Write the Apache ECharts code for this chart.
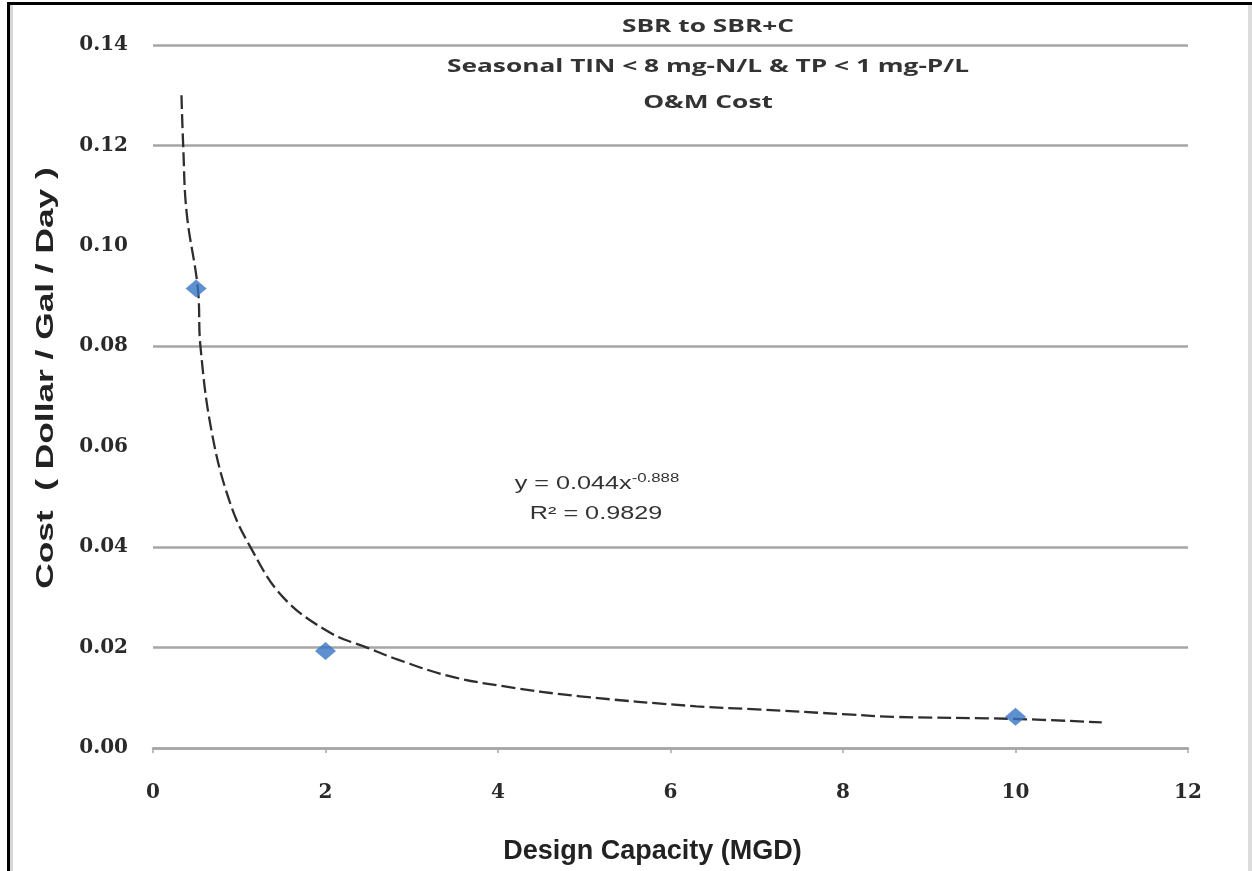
<!DOCTYPE html>
<html>
<head>
<meta charset="utf-8">
<script src="https://cdn.jsdelivr.net/npm/echarts@6/dist/echarts.min.js"></script>
<style>
html,body{margin:0;padding:0;background:#fff;}
#chart{width:1252px;height:871px;}
</style>
</head>
<body>
<div id="chart"></div>
<script>
// ---- data ----
const titleLines = ['SBR to SBR+C', 'Seasonal TIN < 8 mg-N/L & TP < 1 mg-P/L', 'O&M Cost'];
const xAxisName = 'Design Capacity (MGD)';
const yAxisName = 'Cost  ( Dollar / Gal / Day )';
const capacityMGD = [0.5, 2, 10];
const costValues = [0.0915, 0.0193, 0.0062];
// trend line
const trendX = [0.33, 0.35, 0.39, 0.52, 0.55, 0.68, 0.89, 1.13, 1.51, 2.05, 2.48, 2.84, 3.44, 4.06, 4.95, 6.3, 7.0, 8.05, 8.6, 9.97, 11.0];
const trendY = [0.130, 0.120, 0.1066, 0.0915, 0.080, 0.063, 0.049, 0.040, 0.030, 0.023, 0.020, 0.0176, 0.0143, 0.0123, 0.0103, 0.0083, 0.0077, 0.0067, 0.0062, 0.0058, 0.0051];
const equationText = ['y = 0.044x', '-0.888'];
const r2Text = 'R² = 0.9829';
const xTicks = { min: 0, max: 12, step: 2 };
const yTicks = { min: 0, max: 0.14, step: 0.02 };

const chart = echarts.init(document.getElementById('chart'), null, { renderer: 'canvas' });
const gridColor = '#A6A6A6';
const hid = 'rgba(0,0,0,0)';
const titleY = [27, 67, 103];
const tickFont = { fontFamily: 'DejaVu Serif', fontWeight: 'bold', fontSize: 20, color: '#2a2a2a' };

const option = {
  backgroundColor: '#ffffff',
  animation: false,
  grid: { left: 153, right: 64, top: 45, bottom: 123, containLabel: false, outerBoundsMode: 'none' },
  xAxis: {
    type: 'value',
    min: xTicks.min, max: xTicks.max, interval: xTicks.step,
    name: xAxisName,
    nameLocation: 'middle',
    nameGap: 90,
    nameTextStyle: { fontFamily: 'Liberation Sans', fontWeight: 'bold', fontSize: 27, color: '#222', padding: [0, 36, 0, 0] },
    axisLine: { show: true, lineStyle: { color: gridColor, width: 2.5 } },
    axisTick: { show: true, inside: false, length: 5, lineStyle: { color: gridColor, width: 1.5 } },
    axisLabel: Object.assign({ margin: 35 }, tickFont),
    splitLine: { show: false }
  },
  yAxis: {
    type: 'value',
    min: yTicks.min, max: yTicks.max, interval: yTicks.step,
    axisLine: { show: false },
    axisTick: { show: false },
    axisLabel: Object.assign({ margin: 25, formatter: v => v.toFixed(2) }, tickFont),
    splitLine: {
      show: true,
      lineStyle: { width: 2.5, color: [gridColor, gridColor, gridColor, hid, gridColor, hid, gridColor, gridColor] }
    }
  },
  series: [
    {
      type: 'line',
      name: 'trend',
      data: trendX.map((x, i) => [x, trendY[i]]),
      smooth: 0.4,
      showSymbol: false,
      symbol: 'none',
      silent: true,
      z: 2,
      lineStyle: { color: '#2e2e2e', width: 2.3, type: [14, 5] }
    },
    {
      type: 'scatter',
      name: 'cost',
      data: capacityMGD.map((x, i) => [x, costValues[i]]),
      symbol: 'diamond',
      symbolSize: [21, 18],
      z: 3,
      itemStyle: { color: '#3674C4' }
    }
  ],
  graphic: [
    ...titleLines.map((t, i) => ({
      type: 'text', x: 708, y: titleY[i], scaleX: 1.46,
      style: { text: t, align: 'center', verticalAlign: 'middle',
               fontFamily: 'Open Sans', fontWeight: 'bold', fontSize: 18, fill: '#333' }
    })),
    // y axis title (rotated)
    { type: 'text', x: 46, y: 378, rotation: Math.PI / 2, scaleX: 1.47,
      style: { text: yAxisName, align: 'center', verticalAlign: 'middle',
               fontFamily: 'Liberation Sans', fontWeight: 'bold', fontSize: 24, fill: '#222' } },
    { type: 'text', x: 597, y: 484, scaleX: 1.4, style: {
        text: '{b|' + equationText[0] + '}{s|' + equationText[1] + '}',
        align: 'center', verticalAlign: 'middle',
        rich: { b: { fontFamily: 'Liberation Sans', fontSize: 18, fill: '#333' },
                s: { fontFamily: 'Liberation Sans', fontSize: 12, fill: '#333', padding: [0, 0, 10, 0] } }
      } },
    { type: 'text', x: 596, y: 514, scaleX: 1.4, style: { text: r2Text, align: 'center', verticalAlign: 'middle',
        fontFamily: 'Liberation Sans', fontSize: 18, fill: '#333' } },
    // picture frame
    { type: 'rect', shape: { x: 7, y: 2, width: 1250, height: 3 }, style: { fill: '#000' }, silent: true },
    { type: 'rect', shape: { x: 7, y: 2, width: 3, height: 880 }, style: { fill: '#000' }, silent: true },
    { type: 'rect', shape: { x: 10, y: 5, width: 3, height: 880 }, style: { fill: '#d6d6d6' }, silent: true },
    { type: 'rect', shape: { x: 1248, y: 5, width: 4, height: 880 }, style: { fill: '#dcdcdc' }, silent: true }
  ]
};
chart.setOption(option);
</script>
</body>
</html>
